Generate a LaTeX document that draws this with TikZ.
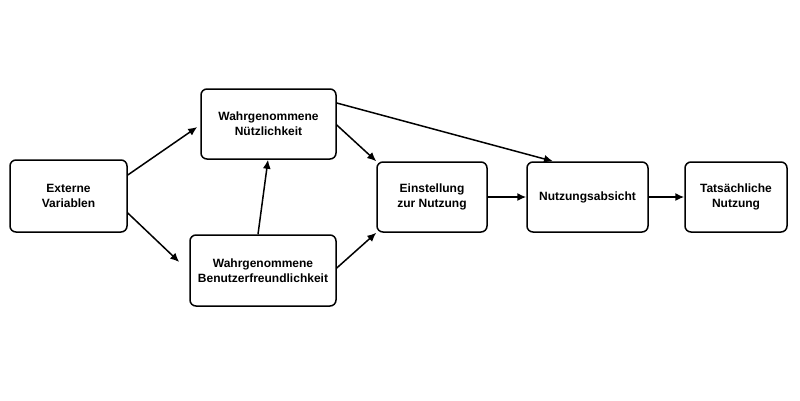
\documentclass[tikz,border=0pt]{standalone}
\usepackage{fontspec}
\setmainfont{Liberation Sans}
\usetikzlibrary{arrows.meta}
\begin{document}
\begin{tikzpicture}[x=1pt,y=-1pt,
  box/.style={draw,line width=1.5pt,rounded corners=6pt,align=center,font=\bfseries\fontsize{12}{15}\selectfont,inner sep=0pt},
  arr/.style={line width=1.5pt,-{Latex[length=9pt,width=8pt]}}]
\useasboundingbox (0,0) rectangle (800,400);
\node[box,minimum width=117pt,minimum height=72pt] (ev) at (68.5,196) {Externe\\Variablen};
\node[box,minimum width=135pt,minimum height=70pt] (wn) at (268.5,124) {Wahrgenommene\\Nützlichkeit};
\node[box,minimum width=146pt,minimum height=71pt] (wb) at (263,270.5) {Wahrgenommene\\Benutzerfreundlichkeit};
\node[box,minimum width=110pt,minimum height=70pt] (ez) at (432,197) {Einstellung\\zur Nutzung};
\node[box,minimum width=121pt,minimum height=70pt] (na) at (587.5,197) {Nutzungsabsicht};
\node[box,minimum width=102pt,minimum height=70pt] (tn) at (736,197) {Tatsächliche\\Nutzung};
\coordinate (a1) at (197,127);
\draw[arr] (ev.east |- 0,175) -- ([xshift=-3pt]wn.west |- 0,127);
\draw[arr] (ev.east |- 0,213) -- ([xshift=-10pt]wb.west |- 0,262);
\draw[arr] (wb.north -| 258,0) -- (wn.south -| 268,0);
\draw[arr] (wn.east |- 0,125) -- (ez.north west);
\draw[arr] (wb.east |- 0,268) -- (ez.south west);
\draw[arr] (wn.east |- 0,103) -- (na.north -| 553,0);
\draw[arr] (ez) -- (na);
\draw[arr] (na) -- (tn);
\end{tikzpicture}
\end{document}
